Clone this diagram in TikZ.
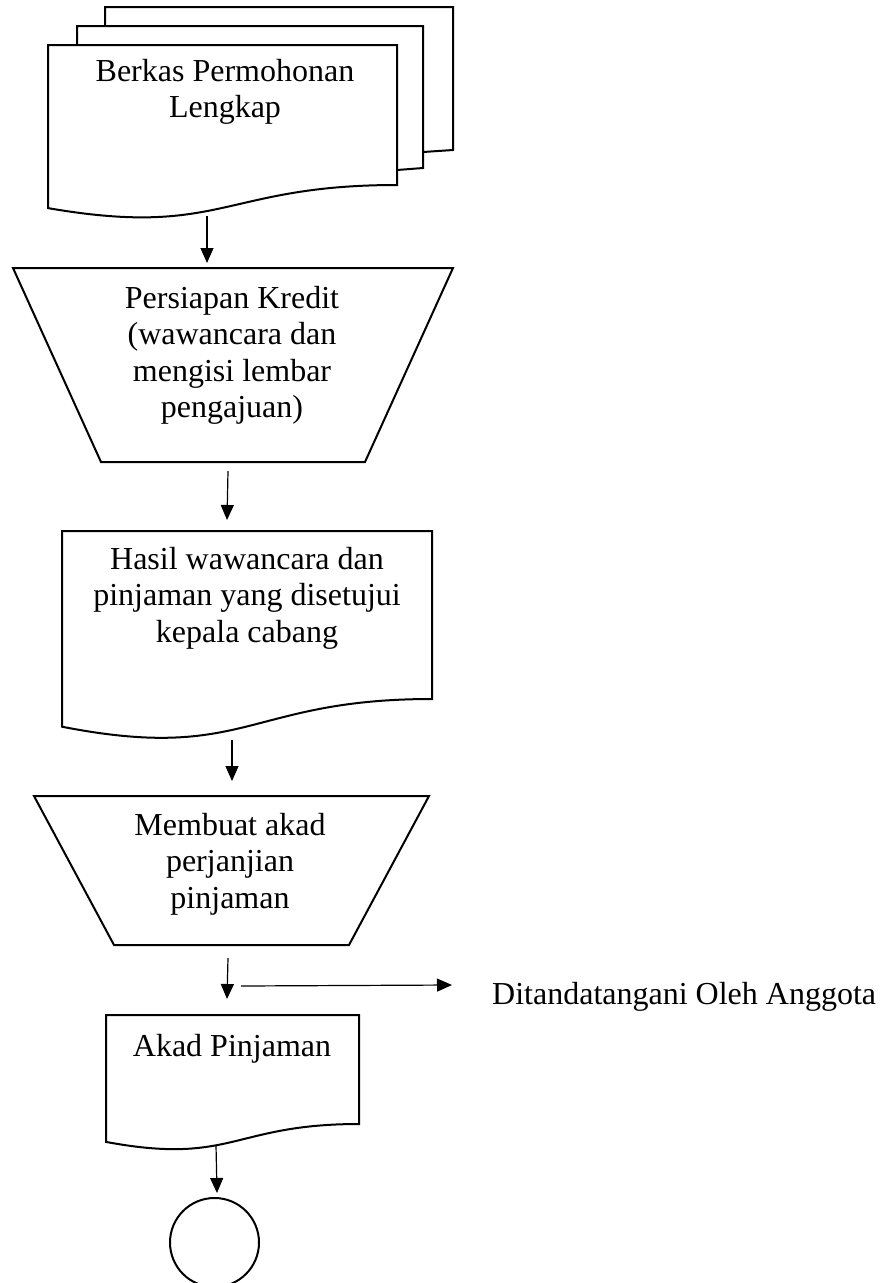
\documentclass[tikz,border=0pt]{standalone}
\usepackage{fontspec}
\setmainfont{Liberation Serif}
\usetikzlibrary{arrows.meta}
\tikzset{
  outl/.style={draw=black, line width=2pt, fill=white, line join=miter},
  conn/.style={draw=black, line width=1.2pt, -{Triangle[length=15pt,width=13pt]}},
  lbl/.style={font=\fontsize{32}{36.5}\selectfont, inner sep=0pt, anchor=base}
}
\begin{document}
\begin{tikzpicture}[x=1pt,y=-1pt]
\useasboundingbox (0,0) rectangle (885,1283);
% multi-document
\path[outl] (105,7) -- (453,7) -- (453,150) -- (423,152) -- (105,152) -- cycle;
\path[outl] (77,26) -- (423,26) -- (423,168) -- (397,170) -- (77,170) -- cycle;
\path[outl] (48,45) -- (397,45) -- (397,185) .. controls (222.5,185) and (222.5,238.3) .. (48,208.1) -- cycle;
\node[lbl] (berkas) at (225,81) {\begin{tabular}[t]{@{}c@{}}Berkas Permohonan\\Lengkap\end{tabular}};
% trapezium 1
\path[outl] (13,268) -- (453,268) -- (365,462) -- (101,462) -- cycle;
\node[lbl] (persiapan) at (232,308) {\begin{tabular}[t]{@{}c@{}}Persiapan Kredit\\(wawancara dan\\mengisi lembar\\pengajuan)\end{tabular}};
% document Hasil
\path[outl] (62,531) -- (432,531) -- (432,699) .. controls (247,699) and (247,762.9) .. (62,726.7) -- cycle;
\node[lbl] (hasil) at (247,569) {\begin{tabular}[t]{@{}c@{}}Hasil wawancara dan\\pinjaman yang disetujui\\kepala cabang\end{tabular}};
% trapezium 2
\path[outl] (34,796) -- (429,796) -- (349,945) -- (114,945) -- cycle;
\node[lbl] (membuat) at (230,835) {\begin{tabular}[t]{@{}c@{}}Membuat akad\\perjanjian\\pinjaman\end{tabular}};
% document Akad
\path[outl] (106,1015) -- (359,1015) -- (359,1124) .. controls (232.5,1124) and (232.5,1165.5) .. (106,1141.9) -- cycle;
\node[lbl] (akad) at (232,1056) {Akad Pinjaman};
% side text
\node[lbl, anchor=base west] (ditanda) at (492,1004) {Ditandatangani Oleh Anggota};
% connector circle
\node[draw=black, line width=2pt, circle, minimum size=89pt, inner sep=0pt] (endc) at (214.5,1242.5) {};
% connector coordinates
\coordinate (a1s) at (207,216); \coordinate (a1e) at (207,263);
\coordinate (a2s) at (228,471); \coordinate (a2e) at (227,520);
\coordinate (a3s) at (232,740); \coordinate (a3e) at (232,781);
\coordinate (a4s) at (228,958); \coordinate (a4e) at (227,999);
\coordinate (a5s) at (216,1145); \coordinate (a5e) at (217,1193);
\coordinate (hs) at (241,986); \coordinate (he) at (452,985);
\draw[conn] (a1s) -- (a1e);
\draw[conn] (a2s) -- (a2e);
\draw[conn] (a3s) -- (a3e);
\draw[conn] (a4s) -- (a4e);
\draw[conn] (a5s) -- (a5e);
\draw[conn] (hs) -- (he);
\end{tikzpicture}
\end{document}
